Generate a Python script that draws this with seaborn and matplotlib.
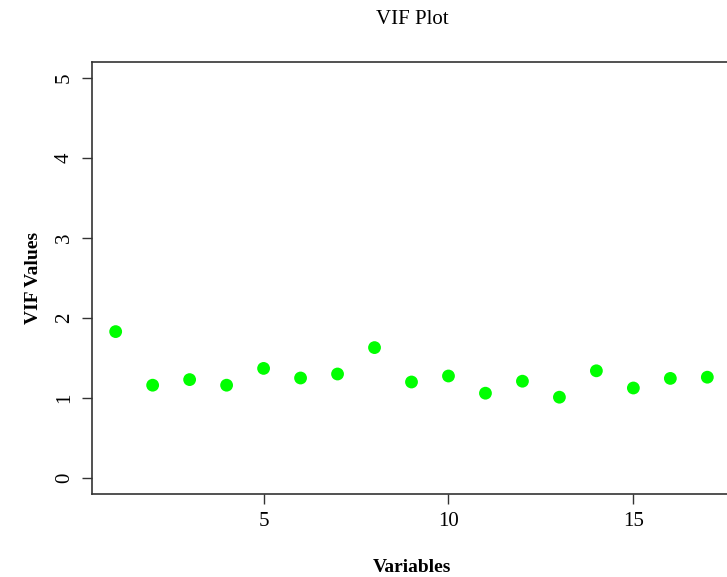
import numpy as np
import pandas as pd
import seaborn as sns

import matplotlib
matplotlib.use('Agg')

import matplotlib.pyplot as plt

# VIF values
variables = list(range(1, 18))
vif_values = [1.83, 1.16, 1.23, 1.16, 1.37, 1.25, 1.30, 1.63, 1.20,
              1.275, 1.06, 1.21, 1.01, 1.34, 1.125, 1.245, 1.26]
x_ticks = [5, 10, 15]
y_ticks = [0, 1, 2, 3, 4, 5]

df = pd.DataFrame({"Variables": variables, "VIF": vif_values})

sns.set_style("white")
plt.rcParams['font.family'] = ['Liberation Serif', 'DejaVu Serif']
plt.rcParams['text.color'] = 'black'

fig = plt.figure(figsize=(7.27, 5.77), dpi=100)
ax = fig.add_axes([92 / 727, 83 / 577, 639 / 727, 432 / 577])

sns.scatterplot(data=df, x="Variables", y="VIF", ax=ax, color="#00ff00",
                s=85, edgecolor="none", zorder=3)

# R style axes: 4% padding, outward ticks, right side cut off
ax.set_xlim(0.36, 17.64)
ax.set_ylim(-0.2, 5.2)
ax.set_xticks(x_ticks)
ax.set_yticks(y_ticks)
ax.tick_params(axis='both', bottom=True, left=True, direction='out', length=7,
               width=1, colors='#333333', labelsize=15, labelcolor='black', pad=6)
for lab in ax.get_yticklabels():
    lab.set_rotation(90)
    lab.set_va('center')
for side in ['left', 'top', 'bottom', 'right']:
    ax.spines[side].set_color('#333333')
    ax.spines[side].set_linewidth(1.2)

ax.set_xlabel("Variables", fontsize=14, fontweight='bold', labelpad=20, color='black')
ax.set_ylabel("VIF Values", fontsize=14, fontweight='bold', labelpad=9, color='black')
fig.text(412 / 727, 1 - 20 / 577, "VIF Plot", ha='center', va='center',
         fontsize=15, color='black')

plt.savefig("out.png", dpi=100)
plt.close()
